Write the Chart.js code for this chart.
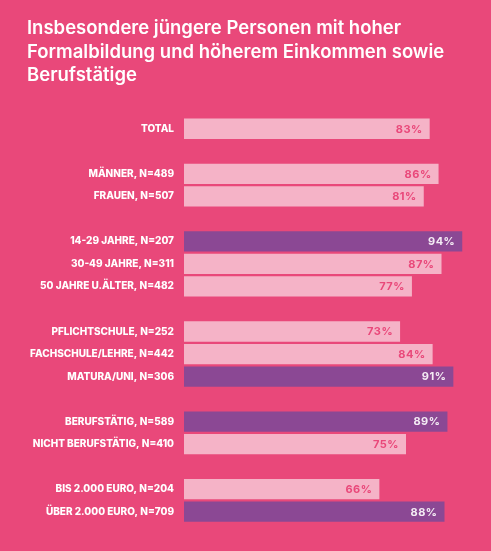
<!DOCTYPE html>
<html>
<head>
<meta charset="utf-8">
<script src="https://cdn.jsdelivr.net/npm/chart.js@4.4.1/dist/chart.umd.min.js"></script>
<style>
  html, body { margin: 0; padding: 0; background: #E9487A; }
  #wrap { width: 491px; height: 551px; position: relative; }
</style>
</head>
<body>
<div id="wrap"><canvas id="c"></canvas></div>
<script>
const titleLines = [
  'Insbesondere jüngere Personen mit hoher',
  'Formalbildung und höherem Einkommen sowie',
  'Berufstätige'
];
const categories = [
  'TOTAL', '',
  'MÄNNER, N=489', 'FRAUEN, N=507', '',
  '14-29 JAHRE, N=207', '30-49 JAHRE, N=311', '50 JAHRE U.ÄLTER, N=482', '',
  'PFLICHTSCHULE, N=252', 'FACHSCHULE/LEHRE, N=442', 'MATURA/UNI, N=306', '',
  'BERUFSTÄTIG, N=589', 'NICHT BERUFSTÄTIG, N=410', '',
  'BIS 2.000 EURO, N=204', 'ÜBER 2.000 EURO, N=709'
];
const values = [83, null, 86, 81, null, 94, 87, 77, null, 73, 84, 91, null, 89, 75, null, 66, 88];
const highlighted = ['14-29 JAHRE, N=207', 'MATURA/UNI, N=306', 'BERUFSTÄTIG, N=589', 'ÜBER 2.000 EURO, N=709'];

const BG = '#E9487A';
const LIGHT = '#F5B3C7';
const DARK = '#8B4894';

const isHi = (i) => highlighted.includes(categories[i]);

const valueLabels = {
  id: 'valueLabels',
  afterDatasetsDraw(chart) {
    const ctx = chart.ctx;
    const meta = chart.getDatasetMeta(0);
    ctx.save();
    ctx.font = '700 11px Inter';
    try { ctx.letterSpacing = '0.5px'; } catch (e) {}
    ctx.textAlign = 'right';
    ctx.textBaseline = 'middle';
    meta.data.forEach((bar, i) => {
      const v = values[i];
      if (v === null || v === undefined) return;
      ctx.fillStyle = isHi(i) ? '#F4ECF4' : BG;
      ctx.fillText(v + '%', bar.x - 7, bar.y + 0.5);
    });
    ctx.restore();
  }
};

new Chart(document.getElementById('c'), {
  type: 'bar',
  data: {
    labels: categories,
    datasets: [{
      data: values,
      backgroundColor: values.map((v, i) => isHi(i) ? DARK : LIGHT),
      borderWidth: 0,
      barPercentage: 0.9,
      categoryPercentage: 1.0
    }]
  },
  options: {
    indexAxis: 'y',
    responsive: true,
    maintainAspectRatio: false,
    animation: false,
    layout: { padding: { left: 27, right: 11, top: 0, bottom: 28 } },
    plugins: {
      legend: { display: false },
      tooltip: { enabled: false },
      title: {
        display: true,
        text: titleLines,
        align: 'start',
        color: '#FFFFFF',
        font: { family: 'Inter', size: 18.5, weight: '600', lineHeight: 1.27 },
        padding: { top: 17, bottom: 30 }
      }
    },
    scales: {
      x: {
        display: false,
        min: 0,
        max: 100
      },
      y: {
        grid: { display: false, drawTicks: false },
        border: { display: false },
        ticks: {
          color: '#FFFFFF',
          font: { family: 'Inter', size: 10, weight: '800' },
          padding: 10
        },
        afterFit(scale) { scale.width = 157; }
      }
    }
  },
  plugins: [valueLabels, {
    id: 'bg',
    beforeDraw(chart) {
      const ctx = chart.ctx;
      ctx.save();
      ctx.fillStyle = BG;
      ctx.fillRect(0, 0, chart.width, chart.height);
      ctx.restore();
    }
  }]
});
</script>
</body>
</html>
